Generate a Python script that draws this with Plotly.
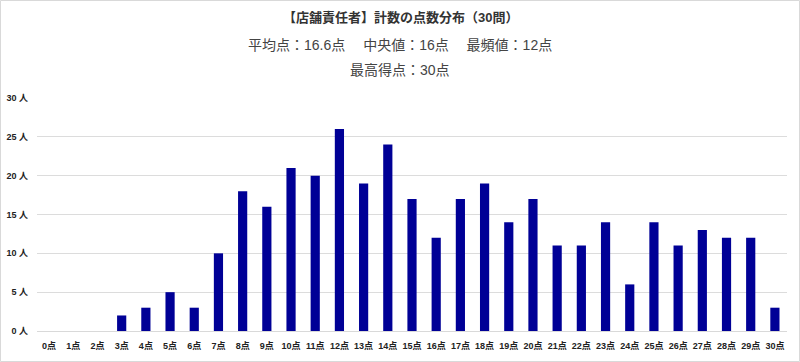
import plotly.graph_objects as go

scores = [f"{i}点" for i in range(31)]
counts = [0, 0, 0, 2, 3, 5, 3, 10, 18, 16, 21, 20, 26, 19, 24, 17, 12, 17, 19, 14,
          17, 11, 11, 14, 6, 14, 11, 13, 12, 12, 3]
y_ticks = [0, 5, 10, 15, 20, 25, 30]
y_ticktext = [f"<b>{v} 人</b>" for v in y_ticks]
x_ticktext = [f"<b>{s}</b>" for s in scores]

title_text = "【店舗責任者】計数の点数分布（30問）"
sub1 = "平均点：16.6点\u3000 中央値：16点\u3000 最頻値：12点"
sub2 = "最高得点：30点"

FONT = "Liberation Sans, Arial, Noto Sans CJK JP, sans-serif"

W, H = 800, 362
l, r, t, b = 37, 13, 98, 31
pw, ph = W - l - r, H - t - b

def py(y):
    return (H - b - y) / ph

def px(x):
    return (x - l) / pw

fig = go.Figure(go.Bar(x=scores, y=counts, marker=dict(color="#000096", line=dict(width=0))))

fig.update_layout(
    width=W, height=H,
    margin=dict(l=l, r=r, t=t, b=b, autoexpand=False),
    plot_bgcolor="white", paper_bgcolor="white",
    bargap=0.62,
    showlegend=False,
    font=dict(family=FONT, color="#333333"),
    xaxis=dict(showgrid=False, showline=True, linecolor="#d9d9d9", linewidth=1,
               tickmode="array", tickvals=scores, ticktext=x_ticktext,
               tickfont=dict(size=9, family=FONT, color="#222222"), ticks="",
               ticklabelstandoff=6, automargin=False),
    yaxis=dict(range=[0, 30], tickvals=y_ticks, ticktext=y_ticktext,
               showgrid=True, gridcolor="#dcdcdc", gridwidth=1, zeroline=False,
               tickfont=dict(size=9, family=FONT, color="#222222"), ticks="",
               ticklabelstandoff=8, automargin=False),
    annotations=[
        dict(text=f"<b>{title_text}</b>", x=px(400), y=py(18), xref="paper", yref="paper",
             xanchor="center", yanchor="middle",
             showarrow=False, font=dict(size=13, color="#333333")),
        dict(text=sub1, x=px(400), y=py(45), xref="paper", yref="paper",
             xanchor="center", yanchor="middle",
             showarrow=False, font=dict(size=14, color="#444444")),
        dict(text=sub2, x=px(400), y=py(70), xref="paper", yref="paper",
             xanchor="center", yanchor="middle",
             showarrow=False, font=dict(size=14, color="#444444")),
    ],
)

fig.add_shape(type="rect", xref="paper", yref="paper",
              x0=px(0.5), x1=px(W - 0.5), y0=py(H - 0.5), y1=py(0.5),
              line=dict(color="#d9d9d9", width=1), layer="below")

fig.write_html("out.html", config={"displayModeBar": False},
               post_script="document.body.style.margin='0';document.body.style.overflow='hidden';")
